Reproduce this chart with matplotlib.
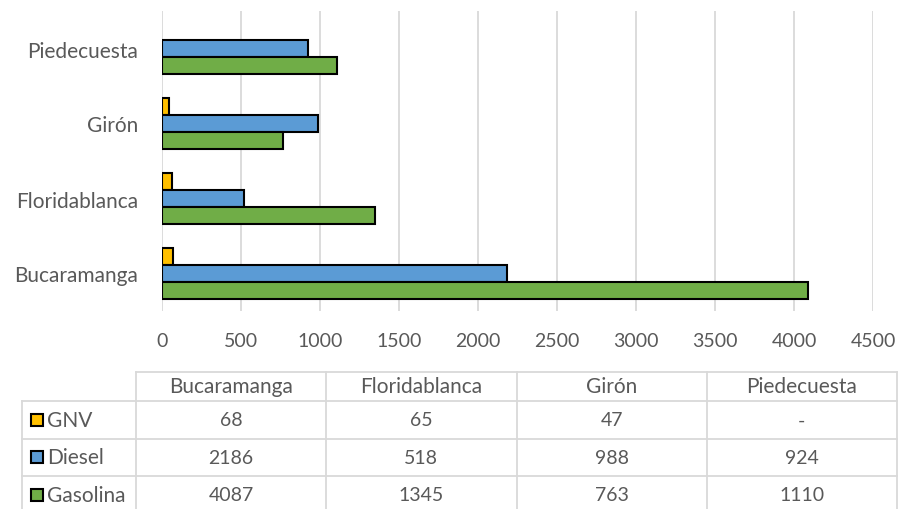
import matplotlib.pyplot as plt
import numpy as np
from matplotlib.patches import Rectangle

municipios = ["Bucaramanga", "Floridablanca", "Girón", "Piedecuesta"]
combustibles = ["GNV", "Diesel", "Gasolina"]
gnv = [68, 65, 47, np.nan]
diesel = [2186, 518, 988, 924]
gasolina = [4087, 1345, 763, 1110]
tabla_texto = [["68", "65", "47", "-"],
               ["2186", "518", "988", "924"],
               ["4087", "1345", "763", "1110"]]
xticks = np.arange(0, 4501, 500)

colores = ["#FFC000", "#5B9BD5", "#70AD47"]
gris = "#595959"
grid_gris = "#D9D9D9"
plt.rcParams["font.family"] = ["Lato", "DejaVu Sans"]
fs_txt = 15
fs_num = 14

W, H = 902, 510
fig = plt.figure(figsize=(W / 100, H / 100), dpi=100)

# bar chart area (pixel box converted to figure fractions)
x0, x1, y_top, y_bot = 162, 873, 12, 312
ax = fig.add_axes([x0 / W, 1 - y_bot / H, (x1 - x0) / W, (y_bot - y_top) / H])

pos = np.arange(len(municipios))
h = 0.227
for k, vals in enumerate([gnv, diesel, gasolina]):
    ax.barh(pos + (1 - k) * h, vals, height=h, color=colores[k],
            edgecolor="black", linewidth=1.5, zorder=3)

ax.set_xlim(0, 4500)
ax.set_ylim(-0.5, len(municipios) - 0.5)
ax.set_xticks(xticks)
ax.set_xticklabels([str(t) for t in xticks])
ax.set_yticks(pos)
ax.set_yticklabels(municipios)
ax.tick_params(axis="both", length=0, colors=gris)
ax.tick_params(axis="x", pad=15, labelsize=fs_num)
ax.tick_params(axis="y", pad=17, labelsize=fs_txt)
ax.grid(axis="x", color=grid_gris, linewidth=1.3, zorder=0)
for s in ax.spines.values():
    s.set_visible(False)

# data table drawn in pixel coordinates
tab = fig.add_axes([0, 0, 1, 1])
tab.set_xlim(0, W)
tab.set_ylim(H, 0)
tab.axis("off")

col_x = np.linspace(136, 897, len(municipios) + 1)
row_y = [373, 402, 439.5, 477, 514.5]
left = 22

# horizontal lines
tab.plot([col_x[0], col_x[-1]], [row_y[0]] * 2, color=grid_gris, lw=1.3)
for y in row_y[1:]:
    tab.plot([left, col_x[-1]], [y, y], color=grid_gris, lw=1.3)
# vertical lines
tab.plot([left, left], [row_y[1], row_y[-1]], color=grid_gris, lw=1.3)
for x in col_x:
    tab.plot([x, x], [row_y[0], row_y[-1]], color=grid_gris, lw=1.3)

for j, m in enumerate(municipios):
    tab.text((col_x[j] + col_x[j + 1]) / 2, (row_y[0] + row_y[1]) / 2, m,
             ha="center", va="center", color=gris, fontsize=fs_txt)

for i, c in enumerate(combustibles):
    yc = (row_y[i + 1] + row_y[i + 2]) / 2
    tab.add_patch(Rectangle((30.5, yc - 6), 12, 12, facecolor=colores[i],
                            edgecolor="black", lw=1.5))
    tab.text(47, yc, c, ha="left", va="center", color=gris, fontsize=fs_txt)
    for j in range(len(municipios)):
        tab.text((col_x[j] + col_x[j + 1]) / 2, yc, tabla_texto[i][j],
                 ha="center", va="center", color=gris, fontsize=fs_num)

fig.savefig("out.png", dpi=100)
